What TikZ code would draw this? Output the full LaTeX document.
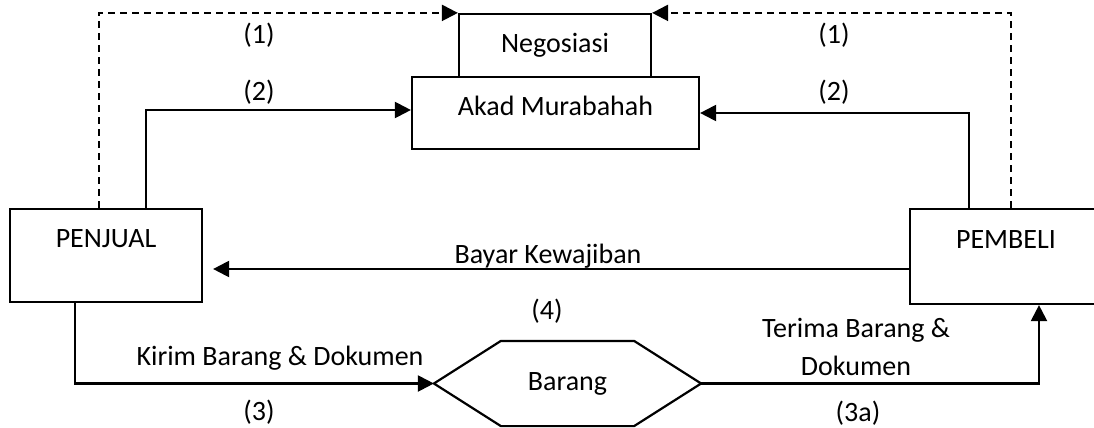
\documentclass[tikz,border=0pt]{standalone}
\usepackage{fontspec}
\setmainfont{Carlito}
\usetikzlibrary{arrows.meta}

\begin{document}
\begin{tikzpicture}[x=0.5pt,y=-0.5pt,>={Triangle[length=8pt,width=8pt]},line width=1.1pt,
    every node/.style={font=\fontsize{14}{19}\selectfont},
    boxnode/.style={draw,rectangle,inner sep=0pt},
    lbl/.style={anchor=base,inner sep=0pt},
    alur/.style={->},
    alurputus/.style={->,dash pattern=on 3.5pt off 2.5pt}]
    \useasboundingbox (0,0) rectangle (1094,428);
    %%
    \node (negosiasi) at (555,45.5) [boxnode,minimum width=96pt,minimum height=31.5pt] {Negosiasi};
    \node (akad) at (555.5,113) [boxnode,minimum width=143.5pt,text height=19pt,text depth=17pt] {Akad Murabahah};
    \node (penjual) at (106,255.5) [boxnode,minimum width=96pt,text height=19pt,text depth=27.5pt] {PENJUAL};
    \node (pembeli) at (1006,256.5) [boxnode,minimum width=96pt,text height=19.5pt,text depth=28pt] {PEMBELI};
    \node (barang) at (567.5,383.5) [minimum width=132.5pt,minimum height=41.5pt,inner sep=0pt] {Barang};
    \draw (barang.west) -- ([xshift=33.5pt]barang.north west) -- ([xshift=-33.5pt]barang.north east)
        -- (barang.east) -- ([xshift=-33.5pt]barang.south east) -- ([xshift=33.5pt]barang.south west) -- cycle;
    %
    \node (l1a) at (259,43) [lbl] {(1)};
    \node (l1b) at (834,43) [lbl] {(1)};
    \node (l2a) at (259,100) [lbl] {(2)};
    \node (l2b) at (834,100) [lbl] {(2)};
    \node (bayar) at (548,263) [lbl] {Bayar Kewajiban};
    \node (l4) at (547,319) [lbl] {(4)};
    \node (kirim) at (280,365) [lbl] {Kirim Barang \& Dokumen};
    \node (l3) at (259,420) [lbl] {(3)};
    \node (terima) at (856,346.5) [align=center,inner sep=0pt] {Terima Barang \&\\Dokumen};
    \node (l3a) at (858,421) [lbl] {(3a)};
    %
    \draw [alurputus] ([xshift=-3.5pt]penjual.north) |- (negosiasi.north west);
    \draw [alurputus] ([xshift=2.5pt]pembeli.north) |- (negosiasi.north east);
    \draw [alur] ([xshift=20pt]penjual.north) |- ([yshift=1.5pt]akad.west);
    \draw [alur] ([xshift=-18.5pt]pembeli.north) |- (akad.east);
    \draw [alur] ([yshift=-6.25pt]pembeli.west) -- ([xshift=5pt,yshift=-6.75pt]penjual.east);
    \draw [alur] ([xshift=-15.5pt]penjual.south) |- (barang.west);
    \draw [alur] (barang.east) -| ([xshift=16.5pt]pembeli.south);
    %
\end{tikzpicture}
\end{document}
